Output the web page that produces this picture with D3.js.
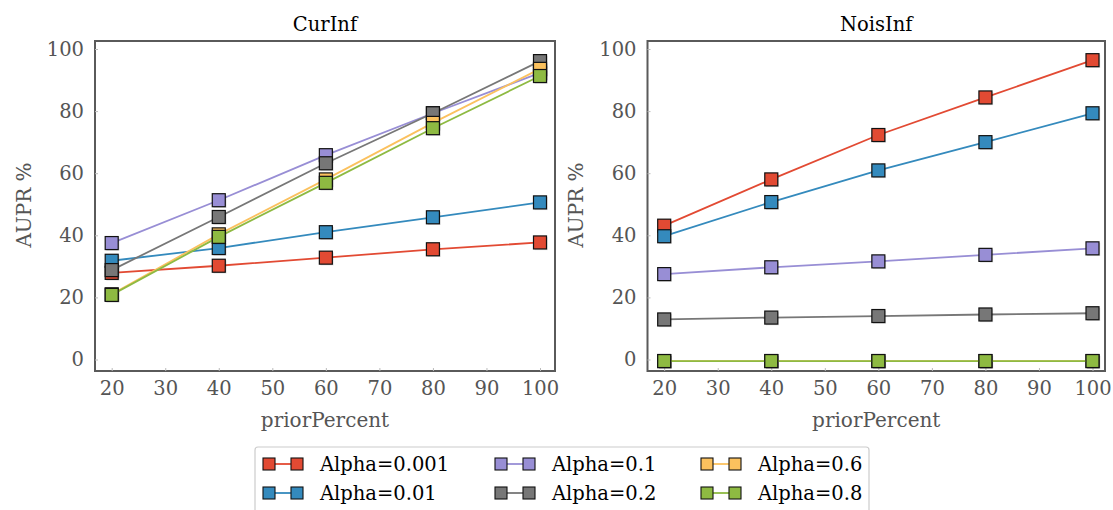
<!DOCTYPE html>
<html><head><meta charset="utf-8">
<script src="https://cdn.jsdelivr.net/npm/d3@7"></script>
<style>
html,body{margin:0;padding:0;background:#fff;}
text{font-family:"DejaVu Serif",serif;}
</style></head>
<body><svg id="c" width="1113" height="510"></svg>
<script>
const xValues = [20, 40, 60, 80, 100];
const xTicks = [20, 30, 40, 50, 60, 70, 80, 90, 100];
const yTicks = [0, 20, 40, 60, 80, 100];
const seriesNames = ["Alpha=0.001", "Alpha=0.01", "Alpha=0.1", "Alpha=0.2", "Alpha=0.6", "Alpha=0.8"];
const colors = ["#E24A33", "#348ABD", "#988ED5", "#777777", "#FBC15E", "#8EBA42"];
const panelTitles = ["CurInf", "NoisInf"];

// CurInf values per series
const curA0001 = [27.9, 30.2, 32.8, 35.5, 37.7];
const curA001  = [31.8, 35.9, 41.0, 45.8, 50.6];
const curA01   = [37.5, 51.3, 65.8, 79.3, 92.3];
const curA02   = [28.8, 45.9, 63.2, 79.3, 96.1];
const curA06   = [21.0, 40.3, 58.0, 76.2, 93.6];
const curA08   = [20.8, 39.5, 56.9, 74.5, 91.3];
// NoisInf values per series
const noiA0001 = [43.1, 58.0, 72.3, 84.4, 96.4];
const noiA001  = [39.7, 50.7, 60.9, 70.0, 79.3];
const noiA01   = [27.5, 29.7, 31.6, 33.7, 35.8];
const noiA02   = [12.9, 13.5, 14.0, 14.5, 14.9];
const noiA06   = [-0.5, -0.5, -0.5, -0.5, -0.5];
const noiA08   = [-0.5, -0.5, -0.5, -0.5, -0.5];

const panelData = [
  [curA0001, curA001, curA01, curA02, curA06, curA08],
  [noiA0001, noiA001, noiA01, noiA02, noiA06, noiA08]
];

const svg = d3.select("#c");
const panels = [
  {left: 95, right: 555},
  {left: 647.5, right: 1105}
];
const boxTop = 41, boxBottom = 371;
const y = d3.scaleLinear().domain([0, 100]).range([359.5, 49]);
const fs = 19.5;
const gray = "#555";
const MS = 13;

panels.forEach((p, pi) => {
  const x = d3.scaleLinear().domain([20, 100]).range([p.left + 16.7, p.left + 445]);
  const g = svg.append("g");
  g.append("rect").attr("x", p.left).attr("y", boxTop)
    .attr("width", p.right - p.left).attr("height", boxBottom - boxTop)
    .attr("fill", "white").attr("stroke", "#5a5a5a").attr("stroke-width", 2);

  const xa = g.append("g").attr("transform", `translate(0,${boxBottom})`)
    .call(d3.axisBottom(x).tickValues(xTicks).tickSize(-3).tickPadding(10).tickFormat(d3.format("d")));
  xa.select(".domain").remove();
  xa.selectAll("line").attr("stroke", "#bbb");
  xa.selectAll("text").attr("fill", gray).style("font-size", fs + "px").style("font-family", "DejaVu Serif");

  const ya = g.append("g").attr("transform", `translate(${p.left},0)`)
    .call(d3.axisLeft(y).tickValues(yTicks).tickSize(-3).tickPadding(11).tickFormat(d3.format("d")));
  ya.select(".domain").remove();
  ya.selectAll("line").attr("stroke", "#bbb");
  ya.selectAll("text").attr("fill", gray).style("font-size", fs + "px").style("font-family", "DejaVu Serif");

  g.append("text").attr("x", (p.left + p.right) / 2).attr("y", 31)
    .attr("text-anchor", "middle").attr("fill", "#000").style("font-size", "19.5px")
    .text(panelTitles[pi]);
  g.append("text").attr("x", (p.left + p.right) / 2).attr("y", 427)
    .attr("text-anchor", "middle").attr("fill", gray).style("font-size", "20px")
    .text("priorPercent");
  const yl = pi === 0 ? 31 : 583;
  g.append("text").attr("transform", `translate(${yl},205) rotate(-90)`)
    .attr("text-anchor", "middle").attr("fill", gray).style("font-size", "20px")
    .text("AUPR %");

  const line = d3.line().x((d, i) => x(xValues[i])).y(d => y(d));
  panelData[pi].forEach((vals, si) => {
    const sg = g.append("g");
    sg.append("path").attr("d", line(vals)).attr("fill", "none")
      .attr("stroke", colors[si]).attr("stroke-width", 1.8);
    sg.selectAll("rect.sh").data(vals).enter().append("rect")
      .attr("x", (d, i) => x(xValues[i]) - MS / 2 + 1.2).attr("y", d => y(d) - MS / 2 + 1.2)
      .attr("width", MS).attr("height", MS).attr("fill", "rgba(0,0,0,0.15)");
    sg.selectAll("rect.mk").data(vals).enter().append("rect")
      .attr("x", (d, i) => x(xValues[i]) - MS / 2).attr("y", d => y(d) - MS / 2)
      .attr("width", MS).attr("height", MS).attr("fill", colors[si])
      .attr("stroke", "#111").attr("stroke-width", 1.2);
  });
});

const lg = svg.append("g");
lg.append("rect").attr("x", 255).attr("y", 447).attr("width", 614).attr("height", 75)
  .attr("rx", 3).attr("fill", "white").attr("stroke", "#ccc").attr("stroke-width", 1.2);
const colX = [269, 501, 707];
const rowY = [464, 493];
seriesNames.forEach((name, i) => {
  const cx = colX[Math.floor(i / 2)], cy = rowY[i % 2];
  const e = lg.append("g");
  e.append("line").attr("x1", cx).attr("x2", cx + 28).attr("y1", cy).attr("y2", cy)
    .attr("stroke", colors[i]).attr("stroke-width", 1.8);
  [cx, cx + 28].forEach(mx => {
    e.append("rect").attr("x", mx - 6).attr("y", cy - 6).attr("width", 12).attr("height", 12)
      .attr("fill", colors[i]).attr("stroke", "#111").attr("stroke-width", 1.1);
  });
  e.append("text").attr("x", cx + 51).attr("y", cy + 7).attr("fill", "#000")
    .style("font-size", "19.5px").text(name);
});
</script></body></html>
